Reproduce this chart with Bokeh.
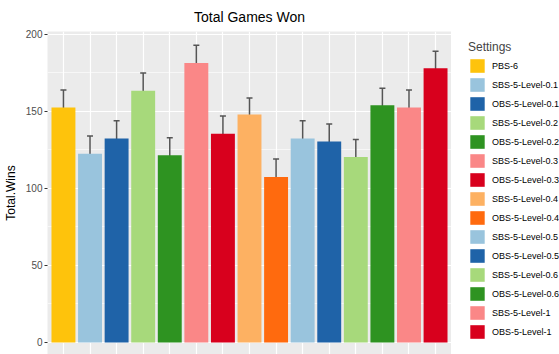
from bokeh.plotting import figure
from bokeh.layouts import row
from bokeh.models import (Range1d, FixedTicker, Grid, Legend, LegendItem, Whisker,
                          ColumnDataSource, TeeHead)
from bokeh.embed import file_html
from bokeh.resources import INLINE

settings = ["PBS-6",
            "SBS-5-Level-0.1", "OBS-5-Level-0.1",
            "SBS-5-Level-0.2", "OBS-5-Level-0.2",
            "SBS-5-Level-0.3", "OBS-5-Level-0.3",
            "SBS-5-Level-0.4", "OBS-5-Level-0.4",
            "SBS-5-Level-0.5", "OBS-5-Level-0.5",
            "SBS-5-Level-0.6", "OBS-5-Level-0.6",
            "SBS-5-Level-1", "OBS-5-Level-1"]
wins = [152.5, 122.5, 132.5, 163.5, 121.5, 181.5, 135.5, 148.0,
        107.5, 132.5, 130.5, 120.5, 154.0, 152.5, 178.0]
lower = [142.0, 111.8, 121.7, 152.8, 110.9, 170.7, 124.9, 136.8,
         96.6, 121.7, 119.7, 109.6, 142.8, 141.9, 166.8]
upper = [164.0, 134.0, 143.9, 175.0, 132.9, 192.9, 147.1, 158.8,
         119.1, 143.9, 141.9, 131.8, 165.0, 164.0, 189.0]
colors = ["#FEC30C",
          "#99C4DD", "#1F63A8", "#A7D97B", "#2E9321", "#FA8787", "#D8001D",
          "#FDB162", "#FF6A0E",
          "#99C4DD", "#1F63A8", "#A7D97B", "#2E9321", "#FA8787", "#D8001D"]
y_ticks = [0, 50, 100, 150, 200]
y_minor = [25, 75, 125, 175]

xs = list(range(1, len(settings) + 1))
src = ColumnDataSource(dict(x=xs, wins=wins, lower=lower, upper=upper,
                            color=colors, setting=settings))

FONT = "Liberation Sans"

p = figure(width=451, height=354,
           x_range=Range1d(0.4, len(settings) + 0.6),
           y_range=Range1d(-7.8, 201.9),
           x_axis_location=None,
           output_backend="svg", toolbar_location=None,
           min_border_left=44, min_border_right=0,
           min_border_top=30, min_border_bottom=0)

p.background_fill_color = "#EBEBEB"
p.border_fill_color = "white"
p.outline_line_color = None

p.title.text = "Total Games Won"
p.title.align = "center"
p.title.text_font = FONT
p.title.text_font_size = "14px"
p.title.text_font_style = "normal"
p.title.text_color = "black"
p.title.standoff = 13

# grids
p.ygrid.ticker = FixedTicker(ticks=y_ticks, minor_ticks=y_minor)
p.ygrid.grid_line_color = "white"
p.ygrid.grid_line_width = 1.2
p.ygrid.minor_grid_line_color = "white"
p.ygrid.minor_grid_line_width = 0.6
p.xgrid.visible = False
p.add_layout(Grid(dimension=0, ticker=FixedTicker(ticks=xs),
                  grid_line_color="white", grid_line_width=1.2))

# y axis
ax = p.yaxis[0]
ax.ticker = FixedTicker(ticks=y_ticks)
ax.axis_line_color = None
ax.major_tick_line_color = "#333333"
ax.major_tick_out = 3
ax.major_tick_in = 0
ax.minor_tick_line_color = None
ax.major_label_text_color = "#4D4D4D"
ax.major_label_text_font = FONT
ax.major_label_text_font_size = "10px"
ax.major_label_standoff = 2
ax.axis_label = "Total.Wins"
ax.axis_label_text_font = FONT
ax.axis_label_text_font_size = "12px"
ax.axis_label_text_font_style = "normal"
ax.axis_label_text_color = "black"
ax.axis_label_standoff = 5

p.vbar(x="x", top="wins", bottom=0, width=0.9, fill_color="color",
       line_color=None, source=src)

w = Whisker(base="x", lower="lower", upper="upper", source=src,
            line_color="#555555", line_width=1.5,
            upper_head=TeeHead(size=6, line_color="#555555", line_width=1.5),
            lower_head=TeeHead(size=6, line_color="#555555", line_width=1.5))
p.add_layout(w)

# legend panel: a second, axis-less figure beside the plot
q = figure(width=108, height=354,
           x_range=Range1d(-100, -99), y_range=Range1d(0, 1),
           x_axis_location=None, y_axis_location=None,
           output_backend="svg", toolbar_location=None,
           min_border_left=0, min_border_right=0,
           min_border_top=0, min_border_bottom=0)
q.grid.visible = False
q.outline_line_color = None
q.background_fill_color = "white"
q.border_fill_color = "white"
rq = q.vbar(x="x", top="wins", bottom=0, width=0.9, fill_color="color",
            line_color=None, source=src)

items = [LegendItem(label=s, renderers=[rq], index=i) for i, s in enumerate(settings)]
legend = Legend(items=items, title="Settings", location=(17, 14),
                glyph_width=18, glyph_height=17, label_height=17, spacing=2,
                padding=0, margin=0, label_standoff=6,
                label_text_font=FONT, label_text_font_size="9px",
                label_text_color="black",
                title_text_font=FONT, title_text_font_size="12px",
                title_text_font_style="normal", title_standoff=3,
                background_fill_alpha=0, border_line_color=None)
q.add_layout(legend)

layout = row(p, q)
open("out.html", "w").write(file_html(layout, INLINE))
